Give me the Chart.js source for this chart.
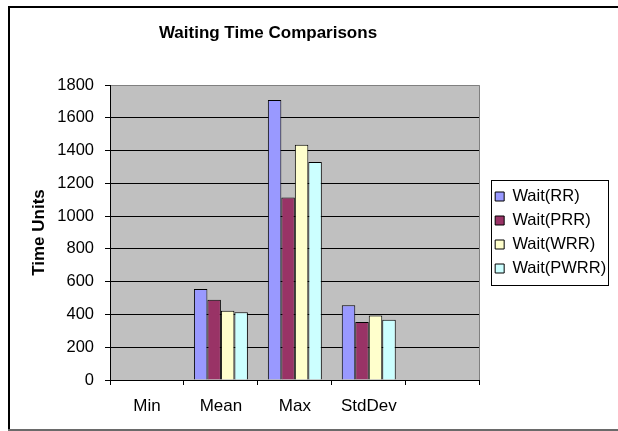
<!DOCTYPE html>
<html>
<head>
<meta charset="utf-8">
<script src="https://cdn.jsdelivr.net/npm/chart.js@4/dist/chart.umd.min.js"></script>
<style>
  html, body { margin: 0; padding: 0; background: #fff; }
  #wrap { width: 618px; height: 431px; position: relative; }
  canvas { display: block; }
</style>
</head>
<body>
<div id="wrap"><canvas id="c" width="618" height="431"></canvas></div>
<script>
// ---- data ----
const categories = ['Min', 'Mean', 'Max', 'StdDev', ''];
const seriesNames = ['Wait(RR)', 'Wait(PRR)', 'Wait(WRR)', 'Wait(PWRR)'];
const waitRR   = [0, 556, 1708, 456];
const waitPRR  = [0, 489, 1114, 354];
const waitWRR  = [0, 422, 1436, 393];
const waitPWRR = [0, 413, 1330, 367];
const yTickValues = [0, 200, 400, 600, 800, 1000, 1200, 1400, 1600, 1800];
const chartTitle = 'Waiting Time Comparisons';
const yAxisTitle = 'Time Units';

// ---- styling ----
const FONT = "'Liberation Sans', Arial, sans-serif";
const seriesColors = ['#9999FF', '#993366', '#FFFFCC', '#CCFFFF'];
const seriesValues = [waitRR, waitPRR, waitWRR, waitPWRR];
const PLOT_RIGHT = 479;

const decorPlugin = {
  id: 'decor',
  afterLayout(chart) {
    const lg = chart.legend;
    if (lg) { lg.left += 8; lg.right += 8; }
  },
  beforeDraw(chart) {
    const { ctx, chartArea: a } = chart;
    ctx.save();
    ctx.fillStyle = '#ffffff';
    ctx.fillRect(0, 0, chart.width, chart.height);
    // outer frame
    ctx.fillStyle = '#000000';
    ctx.fillRect(8, 6, chart.width - 8, 2);
    ctx.fillRect(8, 6, 2, 424);
    ctx.fillStyle = '#6a6a6a';
    ctx.fillRect(8, 429, chart.width - 8, 2);
    // plot area fill
    ctx.fillStyle = '#C0C0C0';
    ctx.fillRect(a.left, a.top, a.right - a.left, a.bottom - a.top);
    // chart title
    ctx.fillStyle = '#000000';
    ctx.font = 'bold 17px ' + FONT;
    ctx.textAlign = 'center';
    ctx.textBaseline = 'middle';
    ctx.fillText(chartTitle, 268, 33.5);
    ctx.restore();
  },
  beforeDatasetsDraw(chart) {
    const { ctx, chartArea: a } = chart;
    ctx.save();
    ctx.strokeStyle = '#808080';
    ctx.lineWidth = 1;
    ctx.beginPath();
    const xr = Math.round(a.right) - 0.5;
    ctx.moveTo(xr, Math.round(a.top) + 0.5);
    ctx.lineTo(xr, a.bottom);
    ctx.stroke();
    ctx.restore();
  },
  afterDraw(chart) {
    const { ctx } = chart;
    const lg = chart.legend;
    if (!lg || !lg.columnSizes) return;
    const p = lg.options.labels.padding;
    const col = lg.columnSizes[0];
    const itemsTop = (lg.top + p + lg.bottom - col.height) / 2;
    const itemsH = col.height - p;
    const x0 = Math.round(lg.left + p - 4) + 0.5;
    const y0 = Math.round(itemsTop - 8) + 0.5;
    ctx.save();
    ctx.strokeStyle = '#000000';
    ctx.lineWidth = 1;
    ctx.strokeRect(x0, y0, 117, Math.round(itemsH + 16));
    ctx.restore();
  }
};

const datasets = seriesNames.map((name, i) => ({
  label: name,
  data: seriesValues[i],
  backgroundColor: seriesColors[i],
  borderColor: '#000000',
  borderWidth: 1,
  borderSkipped: 'start',
  categoryPercentage: 0.73,
  barPercentage: 1.0
}));

new Chart(document.getElementById('c'), {
  type: 'bar',
  data: { labels: categories, datasets },
  plugins: [decorPlugin],
  options: {
    responsive: false,
    animation: false,
    devicePixelRatio: 1,
    layout: { padding: { left: 0, top: 85, right: 9.8, bottom: 0 } },
    plugins: {
      title: { display: false },
      tooltip: { enabled: false },
      legend: {
        position: 'right',
        fullSize: false,
        labels: {
          boxWidth: 9,
          boxHeight: 9,
          padding: 7.5,
          color: '#000000',
          font: { family: FONT, size: 16.5 },
          generateLabels: (chart) =>
            Chart.defaults.plugins.legend.labels.generateLabels(chart)
              .map(it => Object.assign(it, { lineWidth: 1, strokeStyle: '#000000' }))
        }
      }
    },
    scales: {
      x: {
        offset: true,
        grid: { display: true, drawOnChartArea: false, drawTicks: true, tickLength: 5, color: '#000000', offset: true },
        border: { display: true, color: '#000000', width: 1 },
        ticks: { color: '#000000', font: { family: FONT, size: 17 }, padding: 11, maxRotation: 0, autoSkip: false },
        afterFit(scale) { scale.height = 51; }
      },
      y: {
        min: 0,
        max: 1800,
        afterBuildTicks(scale) { scale.ticks = yTickValues.map(v => ({ value: v })); },
        grid: {
          color: (c) => (c.tick && c.tick.value === 1800 ? '#808080' : '#000000'),
          tickColor: '#000000',
          tickLength: 5,
          lineWidth: 1
        },
        border: { display: true, color: '#000000', width: 1 },
        ticks: {
          color: '#000000',
          font: { family: FONT, size: 16.5 },
          padding: 11,
          callback: (v) => String(v)
        },
        title: {
          display: true,
          text: yAxisTitle,
          color: '#000000',
          font: { family: FONT, size: 17, weight: 'bold' },
          padding: { top: 29, bottom: 0 }
        },
        afterFit(scale) { scale.width = 110; }
      }
    }
  }
});
</script>
</body>
</html>
